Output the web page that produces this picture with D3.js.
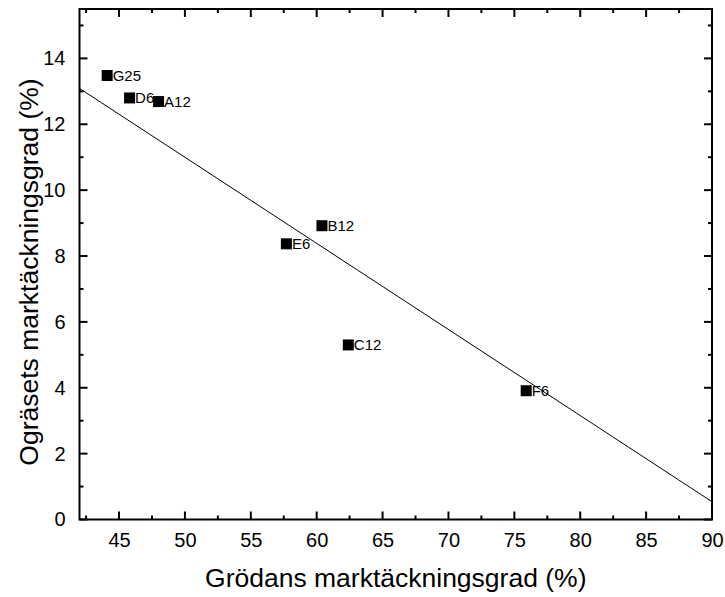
<!DOCTYPE html>
<html><head><meta charset="utf-8">
<script src="https://cdn.jsdelivr.net/npm/d3@7"></script>
<style>body{margin:0;background:#fff;} svg{display:block;font-family:Arial,"Liberation Sans",sans-serif;}</style>
</head><body>
<svg id="c" width="725" height="597"></svg>
<script>
const labels = ["G25","D6","A12","B12","E6","C12","F6"];
const cropCover = [44.1, 45.8, 48.0, 60.4, 57.7, 62.4, 75.9];
const weedCover = [13.48, 12.8, 12.69, 8.92, 8.37, 5.3, 3.91];
const fitX = [42, 90];
const fitY = [13.09, 0.54];
const xTicks = [45,50,55,60,65,70,75,80,85,90];
const yTicks = [0,2,4,6,8,10,12,14];

const svg = d3.select("#c");
const L = 79.5, R = 712, T = 9, B = 519.5;
const x = d3.scaleLinear().domain([42, 90]).range([L, R]);
const y = d3.scaleLinear().domain([0, 15.5]).range([B, T]);

const g = svg.append("g");
const xMinor = d3.range(42.5, 90.01, 2.5).filter(v => v % 5 !== 0);
const yMinor = d3.range(1, 15.01, 2);

// tick labels via d3 axes
const xa = g.append("g").attr("transform",`translate(0,${B})`)
  .call(d3.axisBottom(x).tickValues(xTicks).tickSize(0).tickPadding(13).tickFormat(d3.format("d")));
xa.select(".domain").remove();
xa.selectAll("text").attr("font-size",20).attr("fill","#000");
const ya = g.append("g").attr("transform",`translate(${L},0)`)
  .call(d3.axisLeft(y).tickValues(yTicks).tickSize(0).tickPadding(14).tickFormat(d3.format("d")));
ya.select(".domain").remove();
ya.selectAll("text").attr("font-size",20).attr("fill","#000");

// inward tick marks on all four sides
const tk = g.append("g").attr("stroke","#000").attr("stroke-width",2);
function xt(vals, len){
  tk.selectAll(null).data(vals).join("line")
    .attr("x1",d=>x(d)).attr("x2",d=>x(d)).attr("y1",B).attr("y2",B-len);
  tk.selectAll(null).data(vals).join("line")
    .attr("x1",d=>x(d)).attr("x2",d=>x(d)).attr("y1",T).attr("y2",T+len);
}
function yt(vals, len){
  tk.selectAll(null).data(vals).join("line")
    .attr("y1",d=>y(d)).attr("y2",d=>y(d)).attr("x1",L).attr("x2",L+len);
  tk.selectAll(null).data(vals).join("line")
    .attr("y1",d=>y(d)).attr("y2",d=>y(d)).attr("x1",R).attr("x2",R-len);
}
xt(xTicks, 8); xt(xMinor, 4);
yt(yTicks, 8); yt(yMinor, 4);

// frame
g.append("rect").attr("x",L).attr("y",T).attr("width",R-L).attr("height",B-T)
  .attr("fill","none").attr("stroke","#000").attr("stroke-width",2);

// fit line
g.append("path").datum(fitX.map((v,i)=>[v,fitY[i]]))
  .attr("d", d3.line().x(d=>x(d[0])).y(d=>y(d[1])))
  .attr("fill","none").attr("stroke","#000").attr("stroke-width",1);

// points
const s = 11;
const pts = g.append("g").selectAll("g").data(labels).join("g")
  .attr("transform",(d,i)=>`translate(${x(cropCover[i])},${y(weedCover[i])})`);
pts.append("rect").attr("x",-s/2).attr("y",-s/2).attr("width",s).attr("height",s).attr("fill","#000");
pts.append("text").attr("x",s/2).attr("y",5.5).attr("font-size",15).attr("fill","#000").text(d=>d);

// titles
svg.append("text").attr("x",(L+R)/2).attr("y",587).attr("text-anchor","middle")
  .attr("font-size",26.5).text("Grödans marktäckningsgrad (%)");
svg.append("text").attr("transform",`translate(38,272) rotate(-90)`).attr("text-anchor","middle")
  .attr("font-size",26.5).text("Ogräsets marktäckningsgrad (%)");
</script>
</body></html>
